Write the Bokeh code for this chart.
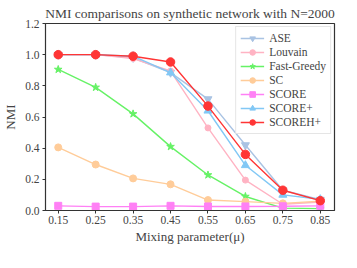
from bokeh.plotting import figure
from bokeh.models import FixedTicker, PrintfTickFormatter, Range1d, Legend, LegendItem
from bokeh.embed import file_html
from bokeh.resources import INLINE

mu = [0.15, 0.25, 0.35, 0.45, 0.55, 0.65, 0.75, 0.85]
ase = [1.0, 1.0, 0.98, 0.885, 0.715, 0.42, 0.13, 0.07]
louvain = [1.0, 1.0, 0.975, 0.895, 0.53, 0.195, 0.04, 0.055]
fast_greedy = [0.905, 0.79, 0.62, 0.41, 0.228, 0.09, 0.015, 0.012]
sc = [0.405, 0.295, 0.206, 0.168, 0.067, 0.057, 0.046, 0.06]
score = [0.03, 0.025, 0.025, 0.03, 0.026, 0.026, 0.027, 0.03]
score_plus = [1.0, 1.0, 0.99, 0.885, 0.64, 0.29, 0.10, 0.072]
scoreh_plus = [1.0, 1.0, 0.99, 0.953, 0.67, 0.36, 0.13, 0.063]

x_ticks = [0.15, 0.25, 0.35, 0.45, 0.55, 0.65, 0.75, 0.85]
y_ticks = [0.0, 0.2, 0.4, 0.6, 0.8, 1.0, 1.2]

FONT = "Liberation Serif"

p = figure(width=341, height=252, output_backend="svg", toolbar_location=None,
           x_range=Range1d(0.116, 0.888), y_range=Range1d(0, 1.2),
           title="NMI comparisons on synthetic network with N=2000",
           min_border_left=41, min_border_right=7, min_border_top=22, min_border_bottom=42)

p.title.text_font = FONT
p.title.text_font_size = "13.5px"
p.title.text_font_style = "normal"
p.title.align = "center"
p.title.offset = 0
p.title.standoff = 6

p.xgrid.visible = False
p.ygrid.visible = False
p.outline_line_color = "#333333"
p.outline_line_width = 1.2

for ax in (p.xaxis[0], p.yaxis[0]):
    ax.major_label_text_font = FONT
    ax.major_label_text_font_size = "11.5px"
    ax.axis_label_text_font = FONT
    ax.axis_label_text_font_size = "13px"
    ax.axis_label_text_font_style = "normal"
    ax.minor_tick_line_color = None
    ax.major_tick_in = 0
    ax.major_tick_out = 3
    ax.axis_line_color = "#333333"
    ax.major_tick_line_color = "#333333"

p.xaxis.ticker = FixedTicker(ticks=x_ticks)
p.xaxis.formatter = PrintfTickFormatter(format="%.2f")
p.yaxis.ticker = FixedTicker(ticks=y_ticks)
p.yaxis.formatter = PrintfTickFormatter(format="%.1f")
p.xaxis.axis_label = "Mixing parameter(\u03bc)"
p.yaxis.axis_label = "NMI"
p.xaxis.major_label_standoff = 2
p.yaxis.major_label_standoff = 3
p.xaxis.axis_label_standoff = 2
p.yaxis.axis_label_standoff = 4

series = [
    ("ASE", ase, "#a9c3e3", "inverted_triangle", 8),
    ("Louvain", louvain, "#ffb3c3", "circle", 6),
    ("Fast-Greedy", fast_greedy, "#66f266", "star", 8),
    ("SC", sc, "#ffcc99", "circle", 7),
    ("SCORE", score, "#ff80f5", "square", 7),
    ("SCORE+", score_plus, "#82c8f5", "triangle", 8),
    ("SCOREH+", scoreh_plus, "#ff3535", "circle", 8.5),
]

items = []
for name, ys, color, marker, size in series:
    l = p.line(mu, ys, line_color=color, line_width=1.4)
    s = p.scatter(mu, ys, marker=marker, size=size, fill_color=color, line_color=color)
    items.append(LegendItem(label=name, renderers=[l, s]))

legend = Legend(items=items, location="top_right")
legend.label_text_font = FONT
legend.label_text_font_size = "11.5px"
legend.glyph_width = 24
legend.glyph_height = 14
legend.label_height = 14
legend.spacing = 0
legend.padding = 4
legend.margin = 3
legend.border_line_color = "#cccccc"
legend.background_fill_alpha = 0.85
p.add_layout(legend)

open("out.html", "w").write(file_html(p, INLINE))
